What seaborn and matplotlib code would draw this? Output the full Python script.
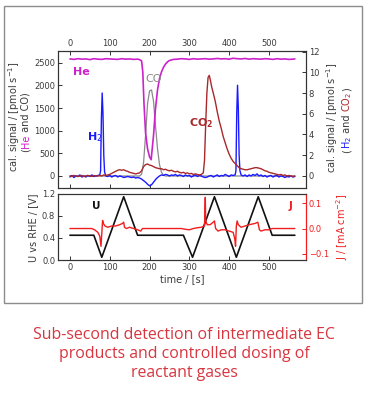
import numpy as np
import pandas as pd
import matplotlib
matplotlib.use("Agg")
import matplotlib.pyplot as plt
import seaborn as sns
from matplotlib.patches import Rectangle

# =======================
# data
# =======================
he_t = [0, 10, 20, 30, 40, 50, 60, 70, 80, 90, 100, 110, 120, 130, 140, 150, 160, 170,
        175, 180, 183, 186, 190, 195, 200, 204, 210, 215, 220, 225, 230, 235, 240, 245, 250,
        260, 270, 280, 290, 300, 310, 320, 330, 340, 350, 360, 370, 380, 390, 400, 410,
        420, 430, 440, 450, 460, 470, 480, 490, 500, 510, 520, 530, 540, 550, 560, 565]
he_v = [2585, 2575, 2590, 2580, 2585, 2570, 2590, 2580, 2575, 2590, 2585, 2580, 2575, 2590,
        2580, 2585, 2575, 2580,
        2570, 2540, 2300, 1600, 950, 600, 420, 360, 900, 1500, 1900, 2150, 2300, 2400, 2470, 2520, 2550,
        2575, 2580, 2590, 2585, 2575, 2590, 2580, 2585, 2590, 2580, 2585, 2595, 2585, 2590, 2580,
        2600, 2590, 2585, 2595, 2580, 2590, 2585, 2580, 2590, 2585, 2575, 2590, 2580, 2585, 2575, 2580, 2585]

co_t = [0, 50, 100, 150, 175, 180, 185, 190, 195, 200, 205, 210, 215, 220, 225, 230, 235, 240, 300, 400, 500, 565]
co_v = [0, 0, 0, 0, 0, 40, 300, 900, 1600, 1880, 1900, 1650, 1100, 600, 250, 80, 20, 0, 0, 0, 0, 0]

h2_t = [0, 5, 10, 15, 20, 25, 30, 35, 40, 45, 50, 55, 60, 65, 70,
        75, 77, 79, 81, 83, 85, 87, 90,
        95, 100, 105, 110, 115, 120, 125, 130, 135, 140, 145, 150, 155, 160, 165, 170, 175, 180,
        185, 190, 195, 200, 205, 210, 215, 220, 225, 230, 235, 240, 245, 250, 255, 260, 265, 270,
        275, 280, 285, 290, 295, 300, 305, 310, 315, 320, 325, 330, 335, 340, 345, 350, 355, 360,
        365, 370, 375, 380, 385, 390, 395, 400, 405, 410, 415,
        417, 419, 421, 423, 425, 427, 430,
        435, 440, 445, 450, 455, 460, 465, 470, 475, 480, 485, 490, 495, 500, 505, 510, 515, 520,
        525, 530, 535, 540, 545, 550, 555, 560, 565]
h2_v = [-0.1, 0.05, -0.15, 0.0, -0.05, 0.1, -0.1, 0.0, -0.1, 0.05, -0.05, 0.1, -0.05, 0.0, 0.05,
        0.1, 0.5, 5.5, 8.0, 6.0, 2.0, 0.4, 0.0,
        -0.05, 0.05, -0.1, 0.0, 0.05, -0.1, 0.0, -0.05, -0.15, -0.1, -0.05, -0.1, -0.15, -0.1, -0.2, -0.15, -0.2, -0.3,
        -0.45, -0.6, -0.8, -0.95, -0.85, -0.6, -0.35, -0.15, 0.0, 0.1, 0.05, 0.15, 0.1, 0.0, 0.1, 0.05, 0.15, 0.0,
        0.1, 0.05, -0.05, 0.1, 0.0, 0.05, -0.1, 0.0, 0.1, -0.05, 0.05, 0.0, -0.1, -0.15, -0.1, 0.0, 0.05, -0.1,
        0.0, 0.1, -0.05, 0.05, 0.0, 0.15, 0.05, -0.05, 0.1, 0.05, 0.1,
        0.5, 6.0, 8.75, 6.5, 2.0, 0.5, 0.1,
        0.0, 0.1, -0.05, 0.1, 0.0, 0.15, 0.05, 0.2, 0.0, 0.1, -0.05, 0.05, -0.1, 0.0, 0.05, -0.1, 0.0, 0.05,
        -0.1, 0.0, -0.05, -0.15, -0.05, -0.1, 0.0, -0.1, -0.05]

co2_t = [0, 5, 10, 15, 20, 25, 30, 35, 40, 45, 50, 55, 60, 65, 70, 75, 80, 85, 90, 95,
         100, 105, 110, 115, 120, 125, 130, 135, 140, 145, 150, 155, 160, 165, 170, 175, 180,
         185, 190, 195, 200, 205, 210, 215, 220, 225, 230, 235, 240, 245, 250, 255, 260, 265,
         270, 275, 280, 285, 290, 295, 300, 305, 310, 315, 320, 325, 330, 335,
         338, 341, 344, 347, 350, 353, 356, 360, 365, 370, 375, 380, 385, 390, 395, 400, 405,
         410, 415, 420, 425, 430, 435, 440, 445, 450, 455, 460, 465, 470, 475, 480, 485, 490,
         495, 500, 505, 510, 515, 520, 525, 530, 535, 540, 545, 550, 555, 560, 565]
co2_v = [0.0, -0.05, 0.05, 0.0, -0.05, 0.0, 0.05, -0.05, 0.0, 0.05, 0.0, -0.05, 0.05, 0.0, 0.0, 0.05, 0.0, 0.1, 0.05, 0.1,
         0.15, 0.25, 0.35, 0.45, 0.55, 0.6, 0.55, 0.6, 0.5, 0.45, 0.35, 0.3, 0.25, 0.2, 0.25, 0.3, 0.5,
         0.9, 1.1, 1.15, 1.05, 1.0, 0.9, 0.8, 0.75, 0.7, 0.7, 0.6, 0.65, 0.55, 0.5, 0.55, 0.45, 0.4,
         0.45, 0.35, 0.3, 0.35, 0.25, 0.3, 0.2, 0.25, 0.15, 0.2, 0.15, 0.1, 0.15, 0.3,
         1.5, 5.0, 8.0, 9.5, 9.7, 9.2, 8.6, 8.0, 7.2, 6.2, 5.3, 4.6, 3.8, 3.2, 2.6, 2.1, 1.7,
         1.4, 1.2, 1.0, 0.8, 0.7, 0.65, 0.6, 0.6, 0.65, 0.7, 0.75, 0.8, 0.8, 0.75, 0.7, 0.6, 0.5,
         0.45, 0.35, 0.3, 0.25, 0.2, 0.15, 0.1, 0.15, 0.05, 0.1, 0.0, 0.05, 0.0, -0.05, 0.0]

u_t = [0, 60, 80, 135, 170, 285, 308, 363, 418, 473, 508, 565]
u_v = [0.45, 0.45, 0.05, 1.15, 0.45, 0.45, 0.05, 1.15, 0.05, 1.15, 0.45, 0.45]

j_t = [0, 55, 62, 70, 75, 78, 80, 82, 84, 88, 95, 105, 115, 125, 132, 135, 137, 142, 150, 160,
       170, 178, 182, 190, 280, 290, 300, 310, 320, 330, 338, 340, 341, 345, 352, 360, 363, 366,
       372, 380, 390, 400, 410, 414, 416, 418, 420, 423, 430, 440, 450, 465, 472, 476, 480, 490,
       500, 508, 565]
j_v = [0.0, 0.0, -0.005, -0.015, -0.03, -0.07, -0.02, 0.032, 0.02, 0.01, 0.005, 0.01, 0.01, 0.015,
       0.02, 0.025, 0.005, 0.0, 0.005, 0.0, -0.005, -0.01, 0.0, 0.0, 0.0, -0.003, -0.005, 0.0, 0.003,
       0.005, 0.01, 0.123, 0.03, 0.015, 0.015, 0.025, 0.03, 0.0, -0.01, -0.005, -0.005, -0.01, -0.015,
       -0.04, -0.07, 0.01, 0.03, 0.015, 0.005, 0.01, 0.015, 0.02, 0.025, -0.005, -0.01, -0.005,
       -0.005, 0.0, 0.0]

x_ticks = [0, 100, 200, 300, 400, 500]

C_HE, C_CO, C_H2, C_CO2 = '#cc22cc', '#8a8a8a', '#1a1aff', '#a8282c'
C_U, C_J, C_TXT = '#111111', '#f01e1e', '#3a3a3a'

# =======================
# style
# =======================
sns.set_style("ticks")
plt.rcParams.update({
    'font.family': ['DejaVu Sans'],
    'axes.edgecolor': '#333333',
    'axes.linewidth': 0.8,
    'xtick.color': '#333333',
    'ytick.color': '#333333',
    'xtick.labelcolor': C_TXT,
    'ytick.labelcolor': C_TXT,
})

W, H = 368, 405
fig = plt.figure(figsize=(W / 100, H / 100), dpi=100)


def box(l, t, r, b):
    return [l / W, 1 - b / H, (r - l) / W, (b - t) / H]


fig.add_artist(Rectangle((4 / W, 1 - 303 / H), 358 / W, 297 / H, transform=fig.transFigure,
                         fill=False, edgecolor='#8c8c8c', lw=1.0))

# --- top panel: mass spec signals ---
ax1 = fig.add_axes(box(58, 51, 306, 188))
ax1r = ax1.twinx()
sns.lineplot(x=co_t, y=co_v, ax=ax1, color=C_CO, lw=0.9, estimator=None, sort=False)
sns.lineplot(x=he_t, y=he_v, ax=ax1, color=C_HE, lw=1.2, estimator=None, sort=False)
sns.lineplot(x=h2_t, y=h2_v, ax=ax1r, color=C_H2, lw=1.0, estimator=None, sort=False)
sns.lineplot(x=co2_t, y=co2_v, ax=ax1r, color=C_CO2, lw=1.0, estimator=None, sort=False)

ax1.set_xlim(-30, 593)
ax1.set_ylim(-265, 2760)
ax1r.set_ylim(-1.16, 12.05)
ax1.set_xticks(x_ticks)
ax1.set_yticks([0, 500, 1000, 1500, 2000, 2500])
ax1r.set_yticks([0, 2, 4, 6, 8, 10, 12])
ax1.tick_params(axis='x', top=True, labeltop=True, bottom=True, labelbottom=False)
for a in (ax1, ax1r):
    a.tick_params(direction='in', length=3, width=0.7, labelsize=6, pad=2)
    a.set_xlabel('')
    a.set_ylabel('')

ax1.text(8, 2300, 'He', color=C_HE, fontsize=8, fontweight='bold', va='center')
ax1.text(190, 2140, 'CO', color=C_CO, fontsize=8, va='center')
ax1.text(43, 860, 'H$_2$', color=C_H2, fontsize=8, fontweight='bold', va='center')
ax1.text(299, 1170, r'$\mathbf{CO_2}$', color=C_CO2, fontsize=8, va='center')

# --- bottom panel: potential and current ---
ax2 = fig.add_axes(box(58, 194, 306, 260))
ax2r = ax2.twinx()
sns.lineplot(x=u_t, y=u_v, ax=ax2, color=C_U, lw=1.2, estimator=None, sort=False)
sns.lineplot(x=j_t, y=j_v, ax=ax2r, color=C_J, lw=1.0, estimator=None, sort=False)

ax2.set_xlim(-30, 593)
ax2.set_ylim(0, 1.2)
ax2r.set_ylim(-0.124, 0.136)
ax2.set_xticks(x_ticks)
ax2.set_yticks([0.0, 0.4, 0.8, 1.2])
ax2r.set_yticks([-0.1, 0.0, 0.1])
for a in (ax2, ax2r):
    a.tick_params(direction='in', length=3, width=0.7, labelsize=6, pad=2)
    a.set_ylabel('')
ax2r.tick_params(colors=C_J, labelcolor=C_J)
ax2r.spines['right'].set_color(C_J)
ax2.set_xlabel('time / [s]', fontsize=7, color=C_TXT, labelpad=2)

ax2.text(56, 0.98, 'U', color=C_U, fontsize=7.5, fontweight='bold', va='center')
ax2.text(548, 0.98, 'J', color=C_J, fontsize=7.5, fontweight='bold', va='center')

# --- axis labels (partly coloured, built piece by piece) ---
LAB = dict(fontsize=7, rotation=90)
renderer = fig.canvas.get_renderer()


def vtext(x, y_bottom, parts):
    # stack rotated pieces bottom-to-top, each starting where the last one ended
    y = 1 - y_bottom / H
    for s, c in parts:
        t = fig.text(x / W, y, s, color=c, ha='center', va='bottom', **LAB)
        bb = t.get_window_extent(renderer)
        y = bb.y1 / fig.bbox.height


fig.text(14 / W, 1 - 117 / H, 'cal. signal / [pmol s$^{-1}$]', color=C_TXT,
         ha='center', va='center', **LAB)
vtext(26, 152, [('(', C_TXT), ('He', C_HE), (' and CO)', C_TXT)])
fig.text(332 / W, 1 - 118 / H, 'cal. signal / [pmol s$^{-1}$]', color=C_TXT,
         ha='center', va='center', **LAB)
vtext(347, 153, [('(', C_TXT), ('H$_2$', C_H2), (' and ', C_TXT), ('CO$_2$', C_CO2), (')', C_TXT)])
fig.text(33 / W, 1 - 228 / H, 'U vs RHE / [V]', color=C_TXT, ha='center', va='center', **LAB)
fig.text(342 / W, 1 - 227 / H, 'J / [mA cm$^{-2}$]', color=C_J, ha='center', va='center', **LAB)

# --- caption ---
fig.text(0.5, 1 - 354 / H,
         'Sub-second detection of intermediate EC\nproducts and controlled dosing of\nreactant gases',
         ha='center', va='center', color='#d8353f', fontsize=11.4, family=['Open Sans', 'DejaVu Sans'],
         linespacing=1.27)

fig.savefig('out.png', dpi=100)
